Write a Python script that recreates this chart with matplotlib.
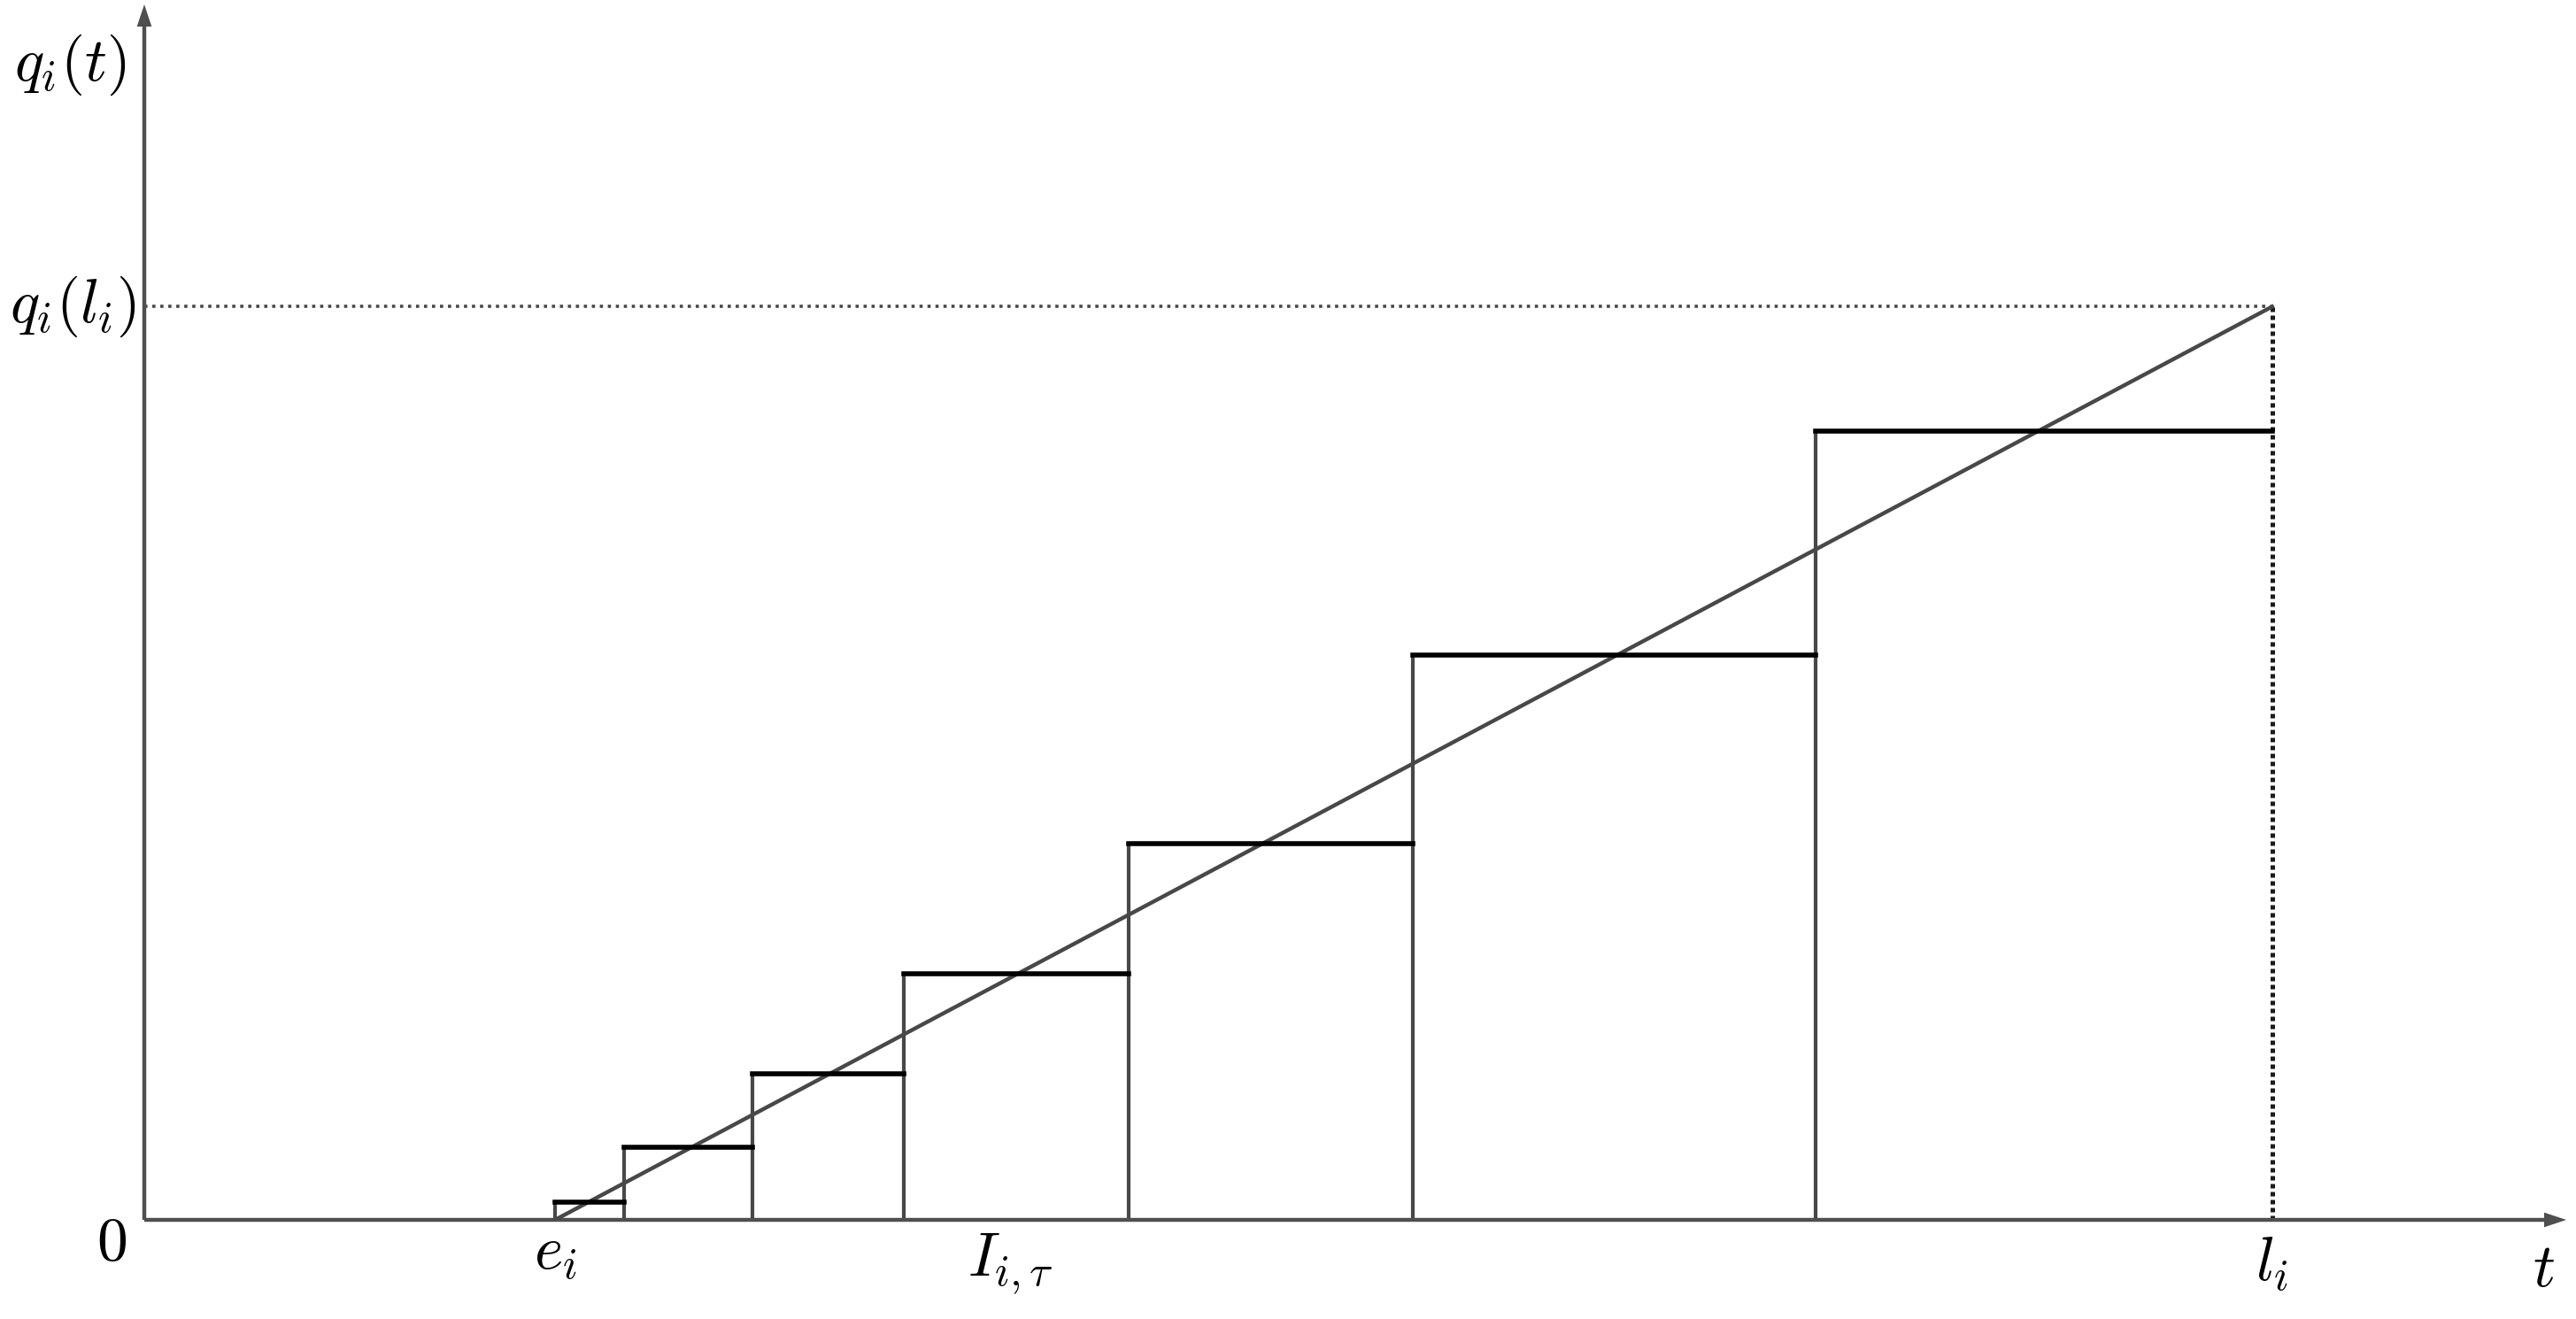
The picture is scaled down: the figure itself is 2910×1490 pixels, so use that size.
import matplotlib
matplotlib.use("Agg")
import matplotlib.pyplot as plt

plt.rcParams['mathtext.fontset'] = 'cm'

# step edges on the t axis (e_i ... l_i)
edges = [2.50, 2.92, 3.70, 4.62, 5.99, 7.72, 10.17, 12.95]
# height of each step
heights = [0.11, 0.44, 0.89, 1.50, 2.29, 3.44, 4.80]
q_l = 5.56
t_max = 14.74
q_max = 7.40

axis_col = "#4f4f4f"
line_col = "#484848"

fig = plt.figure(figsize=(29.1, 14.9), dpi=100)
ax = fig.add_axes([163 / 2910, 1 - 1378 / 1490, 2736 / 2910, 1373 / 1490])
ax.set_xlim(0, t_max)
ax.set_ylim(0, q_max)
ax.axis("off")

# axes with arrows
arr = dict(width=3.2, headwidth=12, headlength=18, shrink=0, color=axis_col, lw=0)
ax.annotate("", xy=(t_max, 0), xytext=(0, 0), arrowprops=arr, annotation_clip=False)
ax.annotate("", xy=(0, q_max), xytext=(0, 0), arrowprops=arr, annotation_clip=False)

# vertical step sides
ax.vlines(edges[:-1], 0, heights, color=line_col, lw=3.0, zorder=2)

# diagonal q_i(t)
ax.plot([edges[0], edges[-1]], [0, q_l], color=line_col, lw=3.2, zorder=3)

# horizontal step tops
ax.hlines(heights, edges[:-1], edges[1:], color="black", lw=4.0, zorder=4,
          capstyle="projecting")

# dotted guides at l_i
ax.plot([0, edges[-1]], [q_l, q_l], color=line_col, lw=2.6, ls=(0, (1, 1.5)), zorder=2)
ax.plot([edges[-1], edges[-1]], [0, q_l], color="#1a1a1a", lw=3.6, ls=(0, (1, 0.8)), zorder=2)

fs = 50
ax.text(-0.45, 7.03, r"$q_i(t)$", fontsize=fs, ha="center", va="center")
ax.text(-0.05, q_l, r"$q_i(l_i)$", fontsize=fs, ha="right", va="center")
ax.text(-0.20, -0.14, r"$0$", fontsize=fs, ha="center", va="center")
ax.text(edges[0], -0.20, r"$e_i$", fontsize=fs, ha="center", va="center")
ax.text(5.27, -0.27, r"$I_{i,\tau}$", fontsize=fs, ha="center", va="center")
ax.text(edges[-1], -0.27, r"$l_i$", fontsize=fs, ha="center", va="center")
ax.text(14.60, -0.30, r"$t$", fontsize=fs, ha="center", va="center")

fig.savefig("out.png", dpi=100)
